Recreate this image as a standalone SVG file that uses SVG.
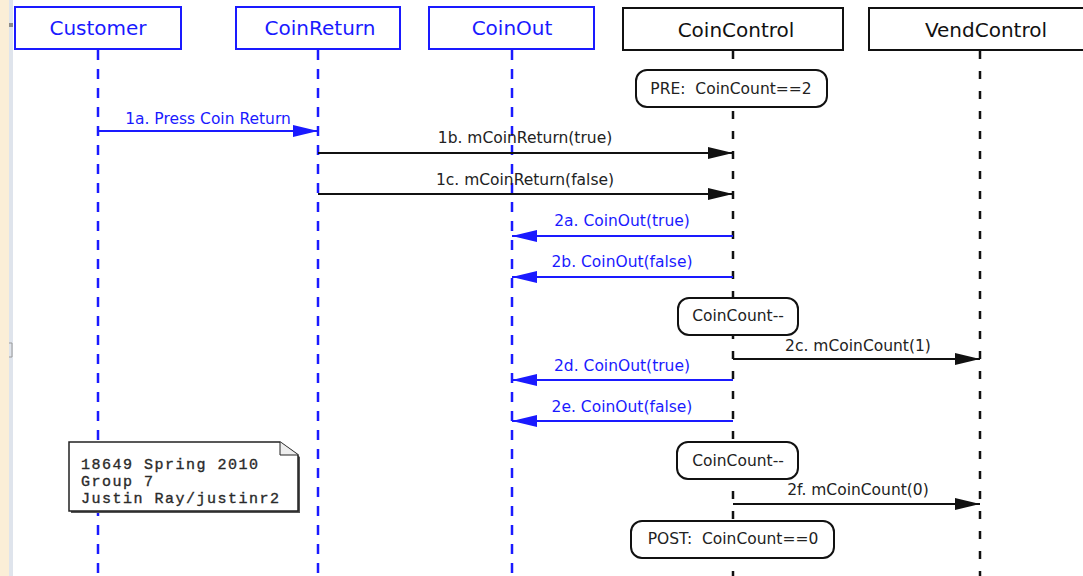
<svg xmlns="http://www.w3.org/2000/svg" width="1083" height="576" viewBox="0 0 1083 576">
<defs>
<style>
.hdrB{fill:#fff;stroke:#1a1aff;stroke-width:2}
.hdrK{fill:#fff;stroke:#111;stroke-width:2}
.htB{font-family:"DejaVu Sans",Verdana,sans-serif;font-size:20px;fill:#1a1aff;text-anchor:middle}
.htK{font-family:"DejaVu Sans",Verdana,sans-serif;font-size:20px;fill:#111;text-anchor:middle}
.lifeB{stroke:#1a1aff;stroke-width:2.5;stroke-dasharray:10 9;fill:none}
.lifeK{stroke:#111;stroke-width:2.5;stroke-dasharray:8 12;fill:none}
.msgB{stroke:#1a1aff;stroke-width:2.2;fill:none}
.msgK{stroke:#111;stroke-width:2;fill:none}
.lblB{font-family:"DejaVu Sans",Verdana,sans-serif;font-size:15.5px;fill:#1a1aff;text-anchor:middle}
.lblK{font-family:"DejaVu Sans",Verdana,sans-serif;font-size:15.5px;fill:#222;text-anchor:middle}
.state{fill:#fff;stroke:#111;stroke-width:2}
.note{font-family:"Liberation Mono","Courier New",monospace;font-size:15px;letter-spacing:1.5px;fill:#2a2a2a;stroke:#2a2a2a;stroke-width:0.35}
</style>
<marker id="ahB" viewBox="0 0 25 12" refX="25" refY="6" markerWidth="25" markerHeight="12" markerUnits="userSpaceOnUse" orient="auto">
<path d="M0,0 L25,6 L0,12 Z" fill="#1a1aff"/>
</marker>
<marker id="ahK" viewBox="0 0 25 12" refX="25" refY="6" markerWidth="25" markerHeight="12" markerUnits="userSpaceOnUse" orient="auto">
<path d="M0,0 L25,6 L0,12 Z" fill="#111"/>
</marker>
</defs>

<!-- background -->
<rect x="0" y="0" width="1083" height="576" fill="#fff"/>
<rect x="0" y="0" width="9" height="576" fill="#fbeed7"/>
<rect x="9" y="0" width="4" height="576" fill="#dfe4ec"/>
<rect x="9" y="23" width="4" height="4" fill="#8a8a8a"/>
<path d="M9,343 H12 V357 H9" fill="none" stroke="#9a9a9a" stroke-width="1"/>

<!-- lifelines -->
<g id="lifelines">
<line class="lifeB" x1="98" y1="50" x2="98" y2="576"/>
<line class="lifeB" x1="318" y1="50" x2="318" y2="576"/>
<line class="lifeB" x1="512" y1="50" x2="512" y2="576"/>
<line class="lifeK" x1="733" y1="51" x2="733" y2="576"/>
<line class="lifeK" x1="980" y1="51" x2="980" y2="576"/>
</g>

<!-- header nodes -->
<g id="customer">
<rect class="hdrB" x="15" y="7" width="166" height="42"/>
<text class="htB" x="98" y="35">Customer</text>
</g>
<g id="coinreturn">
<rect class="hdrB" x="236" y="7" width="164" height="42"/>
<text class="htB" x="320" y="35">CoinReturn</text>
</g>
<g id="coinout">
<rect class="hdrB" x="429" y="7" width="165" height="42"/>
<text class="htB" x="512" y="35">CoinOut</text>
</g>
<g id="coincontrol">
<rect class="hdrK" x="623" y="8" width="220" height="42"/>
<text class="htK" x="736" y="37">CoinControl</text>
</g>
<g id="vendcontrol">
<rect class="hdrK" x="869" y="8" width="230" height="42"/>
<text class="htK" x="986" y="37">VendControl</text>
</g>

<!-- state boxes -->
<g id="pre">
<rect class="state" x="636" y="70" width="191" height="37" rx="11"/>
<text class="lblK" x="731" y="94">PRE:&#160; CoinCount==2</text>
</g>
<g id="dec1">
<rect class="state" x="678" y="298" width="120" height="37" rx="11"/>
<text class="lblK" x="738" y="321">CoinCount--</text>
</g>
<g id="dec2">
<rect class="state" x="677" y="442" width="121" height="37" rx="11"/>
<text class="lblK" x="738" y="466">CoinCount--</text>
</g>
<g id="post">
<rect class="state" x="631" y="521" width="203" height="37" rx="11"/>
<text class="lblK" x="733" y="544">POST:&#160; CoinCount==0</text>
</g>

<!-- note -->
<g id="note">
<path d="M71,444 H282 L300,457 V513 H71 Z" fill="#555"/>
<path d="M69,442 H280 L298,455 V511 H69 Z" fill="#fff" stroke="#222" stroke-width="1.5"/>
<path d="M280,442 V455 H298" fill="#eee" stroke="#222" stroke-width="1"/>
<text class="note" x="81" y="469">18649 Spring 2010</text>
<text class="note" x="81" y="486">Group 7</text>
<text class="note" x="81" y="503">Justin Ray/justinr2</text>
</g>

<!-- connectors -->
<g id="connectors">
<line class="msgB" x1="98" y1="131" x2="318" y2="131" marker-end="url(#ahB)"/>
<text class="lblB" x="208" y="124">1a. Press Coin Return</text>

<line class="msgK" x1="318" y1="153" x2="733" y2="153" marker-end="url(#ahK)"/>
<text class="lblK" x="525" y="143">1b. mCoinReturn(true)</text>

<line class="msgK" x1="318" y1="194" x2="733" y2="194" marker-end="url(#ahK)"/>
<text class="lblK" x="525" y="185">1c. mCoinReturn(false)</text>

<line class="msgB" x1="733" y1="236" x2="512" y2="236" marker-end="url(#ahB)"/>
<text class="lblB" x="622" y="226">2a. CoinOut(true)</text>

<line class="msgB" x1="733" y1="277" x2="512" y2="277" marker-end="url(#ahB)"/>
<text class="lblB" x="622" y="267">2b. CoinOut(false)</text>

<line class="msgK" x1="733" y1="359" x2="980" y2="359" marker-end="url(#ahK)"/>
<text class="lblK" x="858" y="351">2c. mCoinCount(1)</text>

<line class="msgB" x1="733" y1="380" x2="512" y2="380" marker-end="url(#ahB)"/>
<text class="lblB" x="622" y="371">2d. CoinOut(true)</text>

<line class="msgB" x1="733" y1="421" x2="512" y2="421" marker-end="url(#ahB)"/>
<text class="lblB" x="622" y="412">2e. CoinOut(false)</text>

<line class="msgK" x1="733" y1="504" x2="980" y2="504" marker-end="url(#ahK)"/>
<text class="lblK" x="858" y="495">2f. mCoinCount(0)</text>
</g>
</svg>
